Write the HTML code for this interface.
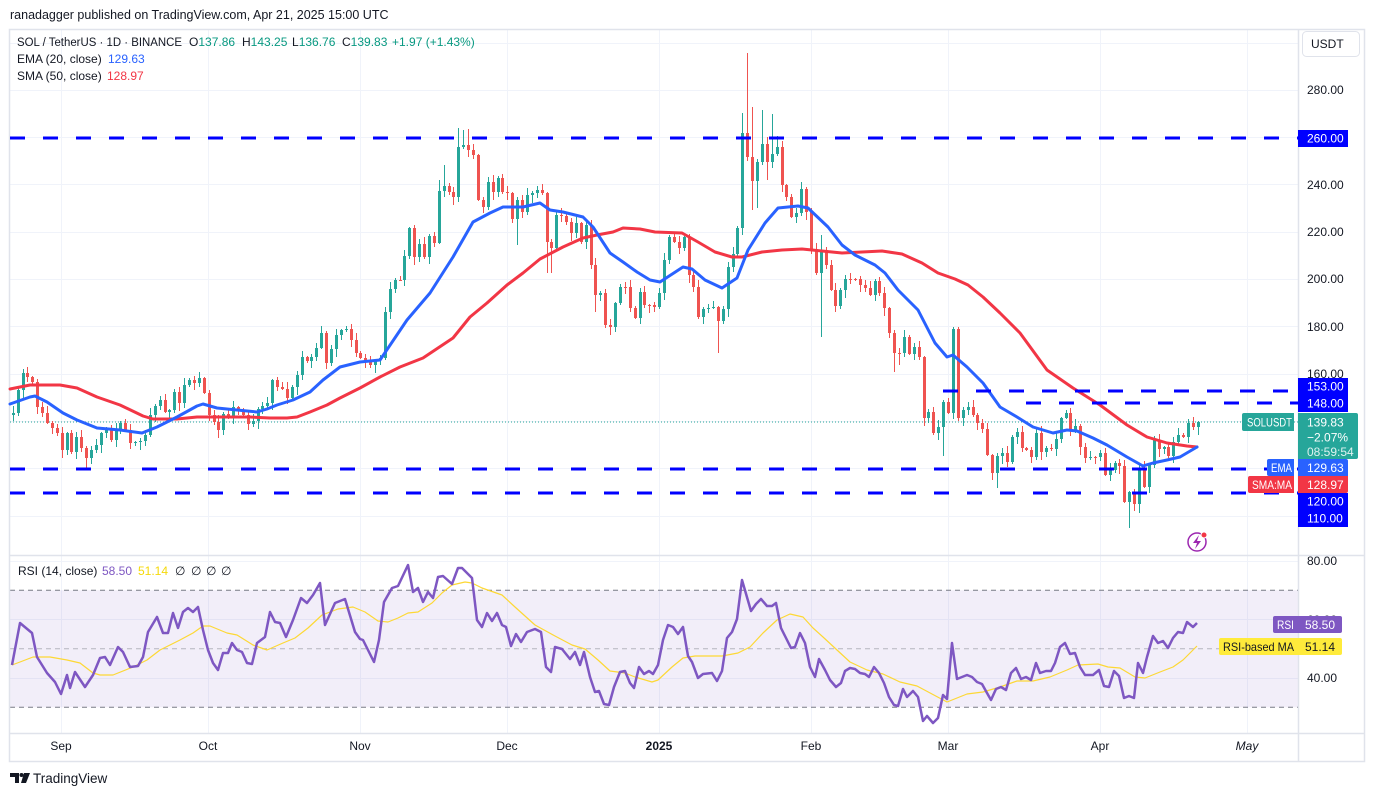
<!DOCTYPE html>
<html><head><meta charset="utf-8">
<style>
html,body{margin:0;padding:0;background:#fff;width:1374px;height:796px;overflow:hidden;font-family:"Liberation Sans",Arial,sans-serif;}
svg{position:absolute;left:0;top:0;}
</style></head><body>
<svg id="c" width="1374" height="796" viewBox="0 0 1374 796" xmlns="http://www.w3.org/2000/svg" font-family="Liberation Sans, Arial, sans-serif">
<rect x="0" y="0" width="1374" height="796" fill="#fff"/>
<text x="10" y="19" font-size="12.5" fill="#131722">ranadagger published on TradingView.com, Apr 21, 2025 15:00 UTC</text>

<g stroke="#f0f3fa" stroke-width="1">
<line x1="10" y1="43.5" x2="1298" y2="43.5"/>
<line x1="10" y1="90.5" x2="1298" y2="90.5"/>
<line x1="10" y1="137.5" x2="1298" y2="137.5"/>
<line x1="10" y1="184.5" x2="1298" y2="184.5"/>
<line x1="10" y1="232.5" x2="1298" y2="232.5"/>
<line x1="10" y1="279.5" x2="1298" y2="279.5"/>
<line x1="10" y1="326.5" x2="1298" y2="326.5"/>
<line x1="10" y1="374.5" x2="1298" y2="374.5"/>
<line x1="10" y1="421.5" x2="1298" y2="421.5"/>
<line x1="10" y1="468.5" x2="1298" y2="468.5"/>
<line x1="10" y1="516.5" x2="1298" y2="516.5"/>
<line x1="10" y1="561.5" x2="1298" y2="561.5"/>
<line x1="10" y1="619.5" x2="1298" y2="619.5"/>
<line x1="10" y1="678.5" x2="1298" y2="678.5"/>
<line x1="61.5" y1="30" x2="61.5" y2="733"/>
<line x1="208.5" y1="30" x2="208.5" y2="733"/>
<line x1="360.5" y1="30" x2="360.5" y2="733"/>
<line x1="507.5" y1="30" x2="507.5" y2="733"/>
<line x1="659.5" y1="30" x2="659.5" y2="733"/>
<line x1="811.5" y1="30" x2="811.5" y2="733"/>
<line x1="948.5" y1="30" x2="948.5" y2="733"/>
<line x1="1100.5" y1="30" x2="1100.5" y2="733"/>
<line x1="1247.5" y1="30" x2="1247.5" y2="733"/>
</g>

<rect x="10" y="590.25" width="1288" height="117" fill="#7e57c2" fill-opacity="0.1"/>
<line x1="10" y1="590.25" x2="1298" y2="590.25" stroke="#787b86" stroke-width="1" stroke-dasharray="5 4"/>
<line x1="10" y1="707.25" x2="1298" y2="707.25" stroke="#787b86" stroke-width="1" stroke-dasharray="5 4"/>
<line x1="10" y1="648.75" x2="1298" y2="648.75" stroke="#787b86" stroke-opacity="0.5" stroke-width="1" stroke-dasharray="5 4"/>

<rect x="9.5" y="29.5" width="1355" height="732" fill="none" stroke="#e0e3eb" stroke-width="1.5"/>
<line x1="10" y1="555.5" x2="1364" y2="555.5" stroke="#e0e3eb" stroke-width="1.5"/>
<line x1="10" y1="733.5" x2="1364" y2="733.5" stroke="#e0e3eb" stroke-width="1.5"/>
<line x1="1298.5" y1="30" x2="1298.5" y2="761" stroke="#e0e3eb" stroke-width="1.5"/>

<line x1="10" y1="422" x2="1298" y2="422" stroke="#26a69a" stroke-width="1" stroke-dasharray="1 2"/>

<g id="candles"></g>

<polyline fill="none" stroke="#f23645" stroke-width="3" stroke-linejoin="round" stroke-linecap="round" points="10,389 30,385 60,385 77,388 97,397 120,405 143,416 153,419 177,419 197,417 227,417 250,417 270,418 287,418 297,417 310,412 327,405 340,398 360,388 380,377 400,367 423,358 453,338 470,317 487,303 507,285 523,273 540,259 563,247 583,238 597,235 613,232 623,228 640,229 655,232 682,233 698,242 715,252 732,257 742,257 762,252 782,250 802,249 822,251 842,253 862,252 882,251 902,254 922,263 938,273 955,279 968,285 983,297 1000,313 1020,333 1047,370 1073,388 1100,405 1127,425 1147,437 1167,443 1187,446 1197,447"/>
<polyline fill="none" stroke="#2962ff" stroke-width="3" stroke-linejoin="round" stroke-linecap="round" points="10,404 30,397 35,396 47,402 63,413 77,420 97,428 120,430 142,433 157,427 177,417 197,406 203,404 217,408 237,410 257,412 267,409 277,405 293,400 310,392 323,380 340,367 360,362 380,360 407,320 430,293 453,257 473,222 490,213 503,207 523,207 540,203 550,210 563,212 583,217 593,227 610,253 623,262 637,272 650,280 660,282 683,267 692,269 705,280 722,288 737,278 748,250 765,223 778,208 798,206 808,208 828,227 842,245 855,255 875,265 885,273 898,290 918,310 935,343 947,357 953,355 967,367 983,383 1000,407 1017,417 1033,427 1053,433 1067,430 1077,431 1093,438 1107,445 1127,457 1143,466 1153,463 1167,460 1180,457 1197,447"/>

<g stroke="#0000ff" stroke-width="3" stroke-dasharray="15 18">
<line x1="10" y1="138" x2="1298" y2="138"/>
<line x1="943" y1="391" x2="1298" y2="391"/>
<line x1="1026" y1="403" x2="1298" y2="403"/>
<line x1="10" y1="469" x2="1298" y2="469"/>
<line x1="10" y1="493" x2="1298" y2="493"/>
</g>

<polyline fill="none" stroke="#fdd835" stroke-width="1.2" stroke-linejoin="round" points="12,665 20,662 33,657 50,657 67,660 80,663 93,673 100,675 113,675 133,667 147,660 160,650 180,640 193,633 203,626 210,626 227,633 237,635 253,645 267,650 283,643 295,638 308,628 322,615 338,609 353,607 365,612 378,621 388,622 398,618 408,613 418,612 432,603 442,593 452,585 465,582 472,583 482,588 502,595 515,607 535,625 555,636 572,645 585,649 598,660 610,671 625,673 635,677 652,682 658,680 672,667 683,658 695,656 708,656 722,656 738,653 750,647 763,633 777,620 790,614 803,617 813,628 823,637 837,650 850,662 867,670 883,674 900,682 917,686 932,694 947,702 967,694 983,692 1000,687 1017,681 1033,681 1050,677 1067,670 1078,665 1098,664 1108,667 1120,668 1135,677 1145,678 1160,672 1173,667 1183,660 1197,646"/>
<polyline fill="none" stroke="#7e57c2" stroke-width="2.5" stroke-linejoin="round" points="12,665 20,623 32,633 37,657 47,673 55,682 61,694 67,675 70,688 75,672 85,687 93,675 100,658 105,657 110,665 118,647 123,652 130,667 138,666 143,657 148,632 157,617 163,633 168,633 173,613 178,628 183,612 188,608 193,612 198,607 203,630 208,650 213,663 218,670 223,653 228,653 232,643 237,650 242,652 247,663 252,664 257,643 265,637 270,612 275,622 280,623 286,637 293,620 301,598 307,603 313,595 320,583 325,625 335,603 345,599 355,632 360,639 363,640 374,662 379,640 384,602 392,588 398,586 408,565 413,592 418,588 423,602 428,592 433,598 438,577 443,576 452,584 458,568 462,568 472,578 477,620 482,627 487,613 492,621 497,613 502,625 506,627 511,646 516,634 521,642 527,632 535,629 541,632 546,667 551,672 555,647 562,649 570,659 575,652 580,665 584,652 590,677 595,692 599,691 604,704 609,705 614,687 620,672 625,671 630,683 634,688 639,667 644,674 649,671 653,674 658,665 663,640 668,625 673,627 678,634 683,627 688,656 692,662 698,678 703,674 712,673 717,681 722,671 727,638 732,632 737,619 742,580 751,611 756,604 761,599 767,606 772,606 776,603 781,628 785,636 791,648 795,647 800,633 805,643 810,667 815,677 819,659 825,670 830,680 836,687 841,683 845,671 850,668 855,669 860,673 865,674 869,677 874,667 879,673 884,683 889,697 894,705 898,706 903,689 907,697 913,691 918,697 923,721 927,716 933,723 938,718 943,695 947,699 952,643 957,679 967,675 972,677 977,682 982,684 987,693 991,700 996,689 1001,687 1006,690 1011,673 1016,668 1021,679 1026,677 1031,680 1036,663 1040,673 1046,671 1051,671 1055,663 1060,647 1065,643 1070,654 1075,653 1080,667 1085,675 1093,675 1099,670 1104,686 1109,687 1114,671 1119,676 1124,698 1129,696 1134,698 1138,663 1143,673 1147,657 1153,636 1158,643 1163,641 1168,648 1173,638 1178,632 1183,633 1187,622 1193,627 1197,623"/>

<g font-size="12" fill="#131722">
<text x="17" y="46" font-size="11.5" textLength="165" lengthAdjust="spacingAndGlyphs">SOL / TetherUS · 1D · BINANCE</text>
<text x="189" y="46">O<tspan fill="#089981">137.86</tspan></text>
<text x="242" y="46">H<tspan fill="#089981">143.25</tspan></text>
<text x="292" y="46">L<tspan fill="#089981">136.76</tspan></text>
<text x="342" y="46">C<tspan fill="#089981">139.83</tspan></text>
<text x="392" y="46" fill="#089981">+1.97 (+1.43%)</text>
<text x="17" y="63">EMA (20, close)</text>
<text x="108" y="63" fill="#2962ff">129.63</text>
<text x="17" y="80">SMA (50, close)</text>
<text x="107" y="80" fill="#f23645">128.97</text>
<text x="18" y="575">RSI (14, close)</text>
<text x="102" y="575" fill="#7e57c2">58.50</text>
<text x="138" y="575" fill="#f5d90a">51.14</text>
<text x="175" y="575">∅</text>
<text x="191" y="575">∅</text>
<text x="206" y="575">∅</text>
<text x="221" y="575">∅</text>
</g>

<g font-size="12" fill="#131722">
<text x="1307" y="94">280.00</text>
<text x="1307" y="189">240.00</text>
<text x="1307" y="236">220.00</text>
<text x="1307" y="283">200.00</text>
<text x="1307" y="331">180.00</text>
<text x="1307" y="378">160.00</text>
<text x="1307" y="565">80.00</text>
<text x="1307" y="624">60.00</text>
<text x="1307" y="682">40.00</text>
</g>
<rect x="1302.5" y="31.5" width="57" height="25" rx="4" fill="#fff" stroke="#e0e3eb"/>
<text x="1311" y="48" font-size="12" fill="#131722">USDT</text>

<rect x="1298" y="130" width="50" height="17" fill="#0000ff"/>
<text x="1307" y="142.5" font-size="12" fill="#fff">260.00</text>
<rect x="1298" y="378" width="50" height="34" fill="#0000ff"/>
<text x="1307" y="390.5" font-size="12" fill="#fff">153.00</text>
<text x="1307" y="407.5" font-size="12" fill="#fff">148.00</text>
<rect x="1298" y="493" width="50" height="34" fill="#0000ff"/>
<text x="1307" y="505.5" font-size="12" fill="#fff">120.00</text>
<text x="1307" y="522.5" font-size="12" fill="#fff">110.00</text>

<path d="M1244,413 H1294 V431 H1244 a2,2 0 0 1 -2,-2 V415 a2,2 0 0 1 2,-2 Z" fill="#26a69a"/>
<text x="1247" y="426.5" font-size="12" fill="#fff" textLength="45" lengthAdjust="spacingAndGlyphs">SOLUSDT</text>
<path d="M1298,413 H1356 a2,2 0 0 1 2,2 V457 a2,2 0 0 1 -2,2 H1298 Z" fill="#26a69a"/>
<text x="1307" y="426.5" font-size="12" fill="#fff">139.83</text>
<text x="1307" y="441.5" font-size="12" fill="#fff">−2.07%</text>
<text x="1307" y="456" font-size="12" fill="#fff" fill-opacity="0.85">08:59:54</text>

<path d="M1269,459 H1294 V476 H1269 a2,2 0 0 1 -2,-2 V461 a2,2 0 0 1 2,-2 Z" fill="#2962ff"/>
<text x="1271" y="472" font-size="12" fill="#fff" textLength="21" lengthAdjust="spacingAndGlyphs">EMA</text>
<path d="M1298,459 H1346 a2,2 0 0 1 2,2 V476 H1298 Z" fill="#2962ff"/>
<text x="1307" y="472" font-size="12" fill="#fff">129.63</text>
<path d="M1250,476 H1294 V493 H1250 a2,2 0 0 1 -2,-2 V478 a2,2 0 0 1 2,-2 Z" fill="#f23645"/>
<text x="1252" y="489" font-size="12" fill="#fff" textLength="40" lengthAdjust="spacingAndGlyphs">SMA:MA</text>
<path d="M1298,476 H1348 V491 a2,2 0 0 1 -2,2 H1298 Z" fill="#f23645"/>
<text x="1307" y="489" font-size="12" fill="#fff">128.97</text>

<path d="M1275,616 H1298 V633 H1275 a2,2 0 0 1 -2,-2 V618 a2,2 0 0 1 2,-2 Z" fill="#7e57c2"/>
<text x="1277" y="629" font-size="12" fill="#fff" textLength="17" lengthAdjust="spacingAndGlyphs">RSI</text>
<path d="M1298,616 H1340 a2,2 0 0 1 2,2 V631 a2,2 0 0 1 -2,2 H1298 Z" fill="#7e57c2"/>
<text x="1305" y="629" font-size="12" fill="#fff">58.50</text>
<path d="M1221,638 H1298 V655 H1221 a2,2 0 0 1 -2,-2 V640 a2,2 0 0 1 2,-2 Z" fill="#ffeb3b"/>
<text x="1223" y="651" font-size="12" fill="#131722" textLength="71" lengthAdjust="spacingAndGlyphs">RSI-based MA</text>
<path d="M1298,638 H1340 a2,2 0 0 1 2,2 V653 a2,2 0 0 1 -2,2 H1298 Z" fill="#ffeb3b"/>
<text x="1305" y="651" font-size="12" fill="#131722">51.14</text>

<circle cx="1197" cy="542" r="9" fill="#fff" stroke="#9c27b0" stroke-width="1.5"/>
<path d="M1199,535 L1193,543 L1197,543 L1195,549 L1201,541 L1197,541 Z" fill="#9c27b0"/>
<circle cx="1204" cy="535" r="3" fill="#f23645" stroke="#fff" stroke-width="1"/>

<g font-size="12" fill="#131722" text-anchor="middle">
<text x="61" y="750">Sep</text>
<text x="208" y="750">Oct</text>
<text x="360" y="750">Nov</text>
<text x="507" y="750">Dec</text>
<text x="659" y="750" font-weight="bold">2025</text>
<text x="811" y="750">Feb</text>
<text x="948" y="750">Mar</text>
<text x="1100" y="750">Apr</text>
<text x="1247" y="750" font-style="italic">May</text>
</g>

<g fill="#131722">
<path d="M10,773 H19 V783 H15 V777 H10 Z"/>
<circle cx="21.5" cy="775" r="2"/>
<path d="M24,773 H30 L26,783 H21 Z"/>
</g>
<text x="33" y="783" font-size="13.5" fill="#131722">TradingView</text>
</svg>
<script>
(function(){
var NS="http://www.w3.org/2000/svg";
var segs=[
[-10,[413,390,373,377,382,407,413,423,428,433,450,433,452,437,448,458,450,445,433,430,440,430,423,430,443,442,441,435,415,406,400,412,410,392,403,385,380,383,378,393,415,422,430,414,417,407,411,415,424,421,409,406,403,380,387,389,398,387,375,357,361,357,348,333,363,349,335]],
[57,[330,329,340,353,358,362,365,360,358,312,289,280,280,256,228,257,244,257,236,243,191,186,192,197,147,145,150,155,200,207,182,192,178,192,193,219,200,212,195,193,190,193,242,248,215,216,222,233,223,242,225,265,295,293,325,327,303,287,287,308,318,292,305,305,307]],
[122,[293,260,237,242,248,237,275,287,317,309,308,307,321,309,267,254,228,133,157,181,162,144,162,154,147,185,197,217,213,189,212,249,273,250,265,290,306,290,279,279,279,285,288,295,281,293,308,333,353,353,337,354,347,357,418]],
[177,[412,433,427,402,413,329,418,410,407,415,423,429,455,473,456,453,462,437,432,448,450,457,433,452,448,449,439,418,413,430,426,447,458,457,457,453,475,470,463,466,502,492,504,468,487,465,440,449,447,456,442,435,437,423,427,422]]
];
var ov={139:{h:113},140:{h:53},141:{h:107,l:210},142:{l:208},143:{h:110},144:{l:180},145:{h:114,l:168},146:{h:136},
155:{h:235,l:337},81:{h:128},82:{h:130},83:{h:129},218:{l:528},217:{l:503},220:{l:513},109:{l:312},
93:{l:245},99:{l:273},100:{l:273},134:{l:353},170:{l:372},171:{l:365},180:{l:456},190:{l:480},191:{l:488},
182:{h:327},183:{h:327},5:{l:468},77:{h:180},78:{h:165}};
var g=document.getElementById('candles');
var prev=415;
for(var s=0;s<segs.length;s++){
 var d0=segs[s][0],arr=segs[s][1];
 for(var k=0;k<arr.length;k++){
  var d=d0+k,c=arr[k],o=prev;
  var xc=Math.round(61.7+d*4.897);
  var top=Math.min(o,c),bot=Math.max(o,c);
  var hi=top-(1+(((d+20)*37)%7)),lo=bot+(1+(((d+20)*53+3)%8));
  if(ov[d]){if(ov[d].h!=null)hi=ov[d].h;if(ov[d].l!=null)lo=ov[d].l;}
  var col=c<o?'#26a69a':'#ef5350';
  var ln=document.createElementNS(NS,'line');
  ln.setAttribute('x1',xc+0.5);ln.setAttribute('x2',xc+0.5);
  ln.setAttribute('y1',hi);ln.setAttribute('y2',lo);
  ln.setAttribute('stroke',col);ln.setAttribute('stroke-width','1');
  g.appendChild(ln);
  var r=document.createElementNS(NS,'rect');
  r.setAttribute('x',xc-1);r.setAttribute('y',top);
  r.setAttribute('width','3');r.setAttribute('height',Math.max(1,bot-top));
  r.setAttribute('fill',col);
  g.appendChild(r);
  prev=c;
 }
}
})();
</script>
</body></html>
